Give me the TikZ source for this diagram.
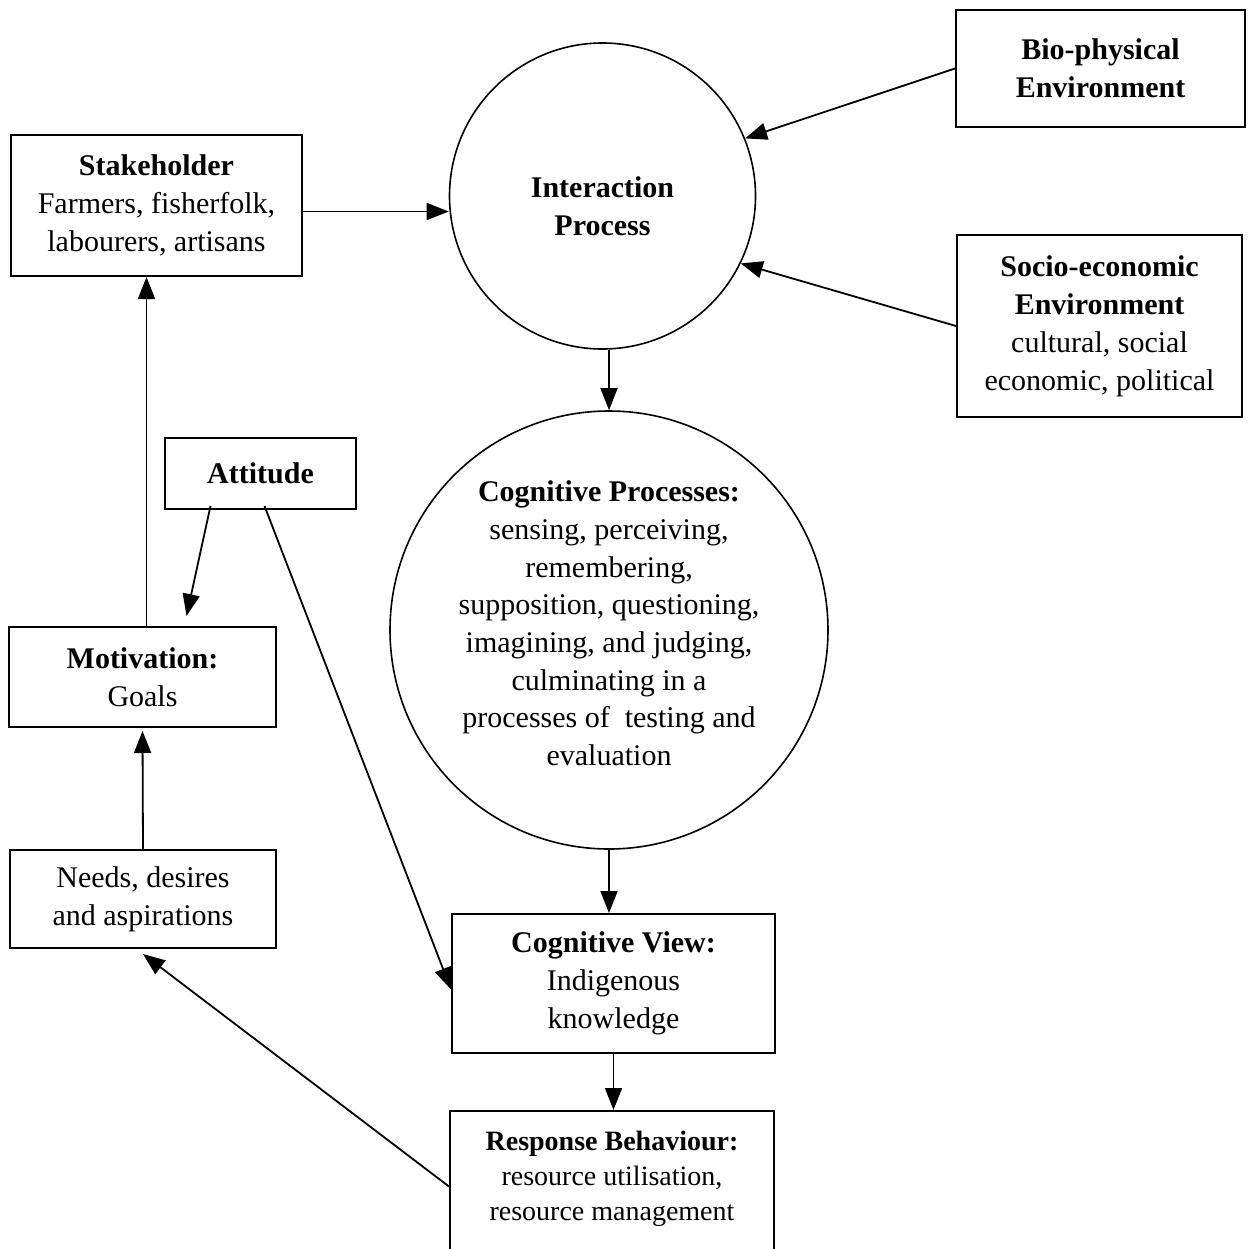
\documentclass[tikz,border=0pt]{standalone}
\usepackage{fontspec}
\setmainfont{Liberation Serif}
\usetikzlibrary{arrows.meta}
\begin{document}
\begin{tikzpicture}[x=0.5pt,y=-0.5pt,
  box/.style={draw, line width=1pt, rectangle, inner sep=0pt, align=center, font=\fontsize{15pt}{19pt}\selectfont},
  circ/.style={draw, line width=0.8pt, circle, inner sep=0pt, align=center, font=\fontsize{15pt}{19pt}\selectfont},
  arr/.style={line width=0.9pt, -{Triangle[length=11pt,width=8.5pt]}}]
\useasboundingbox (0,0) rectangle (1253,1248);

\node[box, minimum width=144.5pt, minimum height=58.5pt] (bio) at (1100.5,68.5)
  {\textbf{Bio-physical}\\\textbf{Environment}};
\node[circ, minimum size=153pt] (inter) at (602.5,196)
  {\rule{0pt}{20.5pt}\textbf{Interaction}\\\textbf{Process}};
\node[box, minimum width=142.5pt, minimum height=91pt] (socio) at (1099.5,326)
  {\textbf{Socio-economic}\\\textbf{Environment}\\cultural, social\\economic, political};
\node[box, minimum width=145.5pt, minimum height=70.5pt] (stake) at (156.5,205.5)
  {\textbf{Stakeholder}\\Farmers, fisherfolk,\\labourers, artisans};
\node[box, minimum width=95.5pt, minimum height=35.5pt] (att) at (260.5,473.5)
  {\textbf{Attitude}};
\node[circ, minimum size=219pt, font=\fontsize{15pt}{18.85pt}\selectfont] (cog) at (609,630)
  {\textbf{Cognitive Processes:}\\sensing, perceiving,\\remembering,\\supposition, questioning,\\imagining, and judging,\\culminating in a\\processes of\ \ testing and\\evaluation\\[-12pt]\mbox{}};
\node[box, minimum width=133.5pt, minimum height=50pt] (moti) at (142.5,677)
  {\textbf{Motivation:}\\Goals};
\node[box, minimum width=133pt, minimum height=49pt] (needs) at (143,899)
  {Needs, desires\\and aspirations};
\node[box, minimum width=161.5pt, minimum height=69.5pt] (cv) at (613.5,983.5)
  {\textbf{Cognitive View:}\\Indigenous\\knowledge};
\node[box, minimum width=162pt, minimum height=75.5pt, font=\fontsize{14pt}{17.5pt}\selectfont] (resp) at (612,1186.5)
  {\textbf{Response Behaviour:}\\resource utilisation,\\resource management\\[-7pt]\mbox{}};

\draw[arr] (bio.west) -- (inter.22);
\draw[arr] (socio.west) -- (inter.-26.6);
\draw[arr] ([yshift=-3pt]stake.east) -- ([yshift=-3pt]stake.east -| inter.west);
\draw[arr] (inter.south -| cog.north) -- (cog.north);
\draw[arr] (cog.south) -- (cog.south |- cv.north);
\draw[arr] (cv.south) -- (cv.south |- resp.north);
\draw[arr] (resp.west) -- ([yshift=-2.5pt]needs.south);
\draw[arr] (needs.north) -- ([yshift=-1.5pt]moti.south);
\draw[arr] ([xshift=2pt]moti.north) -- ([xshift=2pt]moti.north |- stake.south);
\draw[arr] ([xshift=-25pt,yshift=2pt]att.south) -- ([xshift=22pt,yshift=5pt]moti.north);
\draw[arr] ([xshift=2pt,yshift=2pt]att.south) -- ([yshift=-3pt]cv.west);
\end{tikzpicture}
\end{document}
